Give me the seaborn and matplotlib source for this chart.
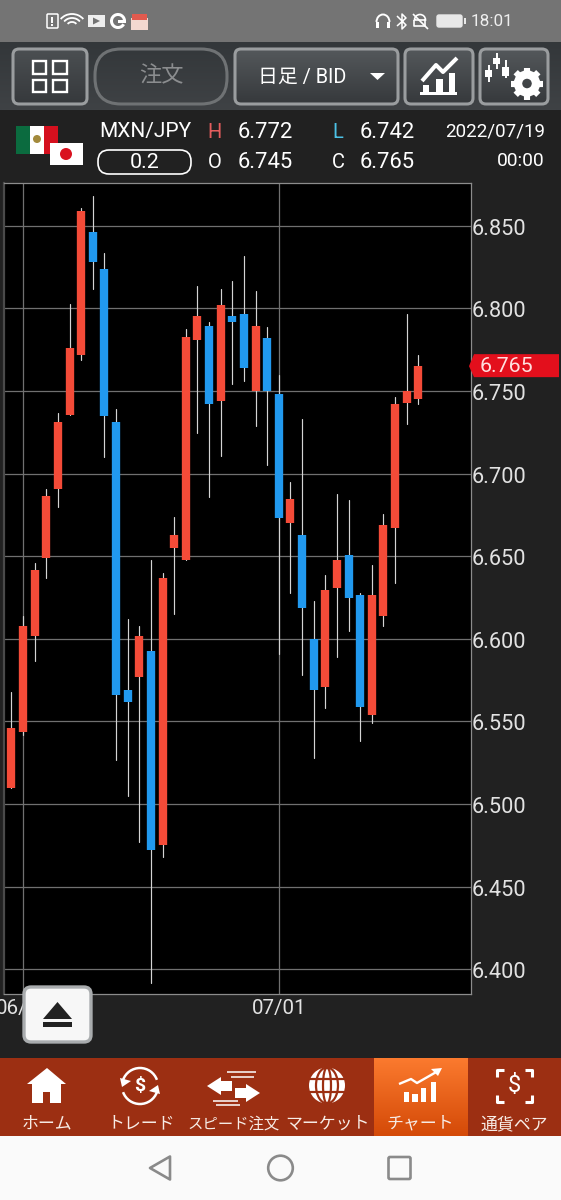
import numpy as np
import pandas as pd
import matplotlib
matplotlib.use("Agg")
import matplotlib.pyplot as plt
import matplotlib.transforms as mtrans
import seaborn as sns
from matplotlib.patches import Rectangle, FancyBboxPatch, Circle, Polygon, Wedge, Arc, Ellipse

# daily candles, MXN/JPY
highs = [6.5678, 6.6138, 6.6457, 6.6907, 6.7368, 6.8028, 6.8605, 6.8680, 6.8337, 6.7389, 6.6118, 6.6077,
         6.6477, 6.6396, 6.6735, 6.7877, 6.8137, 6.7917, 6.8117, 6.8165, 6.8317, 6.8107, 6.7885, 6.7596,
         6.6947, 6.7328, 6.6227, 6.6388, 6.6878, 6.6838, 6.6279, 6.6447, 6.6755, 6.7465, 6.7967, 6.772]
lows = [6.5099, 6.5420, 6.5867, 6.6368, 6.6799, 6.7356, 6.7687, 6.8117, 6.7100, 6.5268, 6.5049, 6.4768,
        6.3919, 6.4678, 6.6148, 6.6477, 6.7247, 6.6860, 6.7108, 6.7539, 6.7558, 6.7288, 6.7050, 6.5910,
        6.6279, 6.5779, 6.5280, 6.5579, 6.5888, 6.6047, 6.5380, 6.5489, 6.6079, 6.6340, 6.7298, 6.742]
opens = [6.5099, 6.5438, 6.6019, 6.6489, 6.6908, 6.7356, 6.7718, 6.8460, 6.8238, 6.7310, 6.5690, 6.5767,
         6.5926, 6.4750, 6.6549, 6.6477, 6.7810, 6.7895, 6.7439, 6.7955, 6.7967, 6.7500, 6.7819, 6.7480,
         6.6699, 6.6628, 6.5997, 6.5708, 6.6309, 6.6507, 6.6265, 6.5539, 6.6140, 6.6671, 6.7429, 6.745]
closes = [6.5460, 6.6077, 6.6416, 6.6866, 6.7310, 6.7760, 6.8589, 6.8279, 6.7348, 6.5658, 6.5619, 6.6017,
          6.4720, 6.6368, 6.6626, 6.7828, 6.7955, 6.7421, 6.8018, 6.7917, 6.7641, 6.7895, 6.7500, 6.6729,
          6.6848, 6.6188, 6.5690, 6.6295, 6.6477, 6.6249, 6.5589, 6.6265, 6.6687, 6.7419, 6.7500, 6.765]
price_ticks = [6.40, 6.45, 6.50, 6.55, 6.60, 6.65, 6.70, 6.75, 6.80, 6.85]
date_ticks = [1, 23]
date_labels = ["06/01", "07/01"]
last_price = 6.765

UP = "#f44b38"
DOWN = "#2199ef"
W, H = 561, 1200

sns.set_theme(style="dark")
plt.rcParams["font.family"] = ["Roboto", "Noto Sans CJK JP", "DejaVu Sans"]
plt.rcParams["axes.unicode_minus"] = False

n = len(opens)
idx = np.arange(n)
wicks = pd.DataFrame({"candle": np.tile(idx, 2), "price": highs + lows})
bodies = pd.DataFrame({"candle": np.tile(idx, 2), "price": opens + closes,
                       "dir": ["up" if c > o else "down" for o, c in zip(opens, closes)] * 2})

fig = plt.figure(figsize=(W / 100, H / 100), dpi=100, facecolor="#212121")

# price chart, placed by pixels of the screen
x0, x1, y0, y1 = 4, 471, 183, 994
ax = fig.add_axes([x0 / W, 1 - y1 / H, (x1 - x0) / W, (y1 - y0) / H], facecolor="black", zorder=1)
sns.lineplot(data=wicks, x="candle", y="price", units="candle", estimator=None, color="#d4d4d4",
             lw=0.85, ax=ax, legend=False, zorder=3)
sns.lineplot(data=bodies, x="candle", y="price", units="candle", estimator=None, hue="dir",
             palette={"up": UP, "down": DOWN}, lw=6.0, ax=ax, legend=False, zorder=4,
             solid_capstyle="butt")
ax.set_xlim((x0 - 11.4) / 11.625, (x1 - 11.4) / 11.625)
ax.set_ylim(6.85 - (y1 - 225.7) / 1652.4, 6.85 - (y0 - 225.7) / 1652.4)
ax.set_xlabel("")
ax.set_ylabel("")
ax.yaxis.tick_right()
ax.set_yticks(price_ticks, [f"{p:.3f}" for p in price_ticks], fontsize=15.7, color="#e2e2e2")
ax.set_xticks(date_ticks, date_labels, fontsize=14.8, color="#e2e2e2")
ax.tick_params(axis="y", length=0, pad=0.5)
ax.tick_params(axis="x", length=0, pad=3.5)
ax.grid(True, color="#707070", lw=0.9)
ax.set_axisbelow(True)
for name, sp in ax.spines.items():
    sp.set_color("#8c8c8c")
    sp.set_linewidth(0.9)
ax.spines["left"].set_color("#4a4a4a")
ax.spines["left"].set_linewidth(1.6)
# labels sit a pixel lower than the grid lines
shift = mtrans.ScaledTranslation(0, -1 / 100, fig.dpi_scale_trans)
for lab in ax.get_yticklabels():
    lab.set_transform(lab.get_transform() + shift)

# screen chrome on top, in pixel coordinates
ui = fig.add_axes([0, 0, 1, 1], zorder=2)
ui.patch.set_alpha(0)
ui.set_axis_off()


def rect(a, b, c, d, fc, **kw):
    ui.add_patch(Rectangle((a, b), c - a, d - b, fc=fc, ec="none", **kw))


def grad(a, b, c, d, top, bottom, z=1):
    cm = matplotlib.colors.LinearSegmentedColormap.from_list("g", [top, bottom])
    ui.imshow(np.linspace(0, 1, 64)[:, None], extent=(a, c, d, b), cmap=cm, aspect="auto", zorder=z)


def button(a, b, c, d, ec="#9a9d9f", r=6, lw=2.2, fc="none", z=3):
    ui.add_patch(FancyBboxPatch((a + r, b + r), c - a - 2 * r, d - b - 2 * r, boxstyle=f"round,pad={r}",
                                fc=fc, ec=ec, lw=lw, zorder=z))


def line(xs, ys, c="white", lw=1.5, z=4, **kw):
    ui.plot(xs, ys, color=c, lw=lw, zorder=z, solid_capstyle=kw.pop("cap", "butt"), **kw)


def poly(pts, c="white", z=4, **kw):
    ui.add_patch(Polygon(pts, closed=True, fc=c, ec="none", zorder=z, **kw))


def txt(x, y, s, size, c="white", ha="center", **kw):
    ui.text(x, y, s, fontsize=size, color=c, ha=ha, va="center", zorder=6, **kw)


# status bar and toolbar
rect(0, 0, W, 42, "#747474", zorder=1)
grad(0, 42, W, 110, "#33373a", "#3f4245")
grad(13, 49, 87, 104, "#4b4f52", "#36393c", 2)
grad(235, 49, 398, 104, "#54585b", "#36393c", 2)
grad(405, 49, 473, 104, "#54585b", "#36393c", 2)
grad(480, 49, 548, 104, "#54585b", "#36393c", 2)
button(13, 49, 87, 104)
button(95, 49, 227, 104, ec="#6f7274", r=26)
button(235, 49, 398, 104)
button(405, 49, 473, 104)
button(480, 49, 548, 104)

# status icons
ui.add_patch(FancyBboxPatch((48, 15), 9, 12, boxstyle="round,pad=1", fc="none", ec="white", lw=1.1, zorder=4))
line([52.5, 52.5], [17, 23], lw=1.4)
line([52.5, 52.5], [24, 26], lw=1.4)
for r in (5, 9, 13):
    ui.add_patch(Arc((72, 27), 2.2 * r, 2 * r, theta1=215, theta2=325, ec="white", lw=1.3, zorder=4))
rect(88, 15, 105, 27, "#eeeeee", zorder=4)
poly([(93, 17.5), (93, 24.5), (100, 21)], "#747474")
ui.add_patch(Wedge((118, 21), 8, 30, 360, width=3, fc="white", ec="none", zorder=4))
rect(118, 20, 126, 23, "white", zorder=4)
rect(131, 18, 148, 30, "#f3d8d0", zorder=4)
rect(132, 14, 147, 20, "#e25a4e", zorder=4)
ui.add_patch(Arc((383, 22), 13, 15, theta1=180, theta2=360, ec="white", lw=1.4, zorder=4))
rect(376, 22, 379, 28, "white", zorder=4)
rect(387, 22, 390, 28, "white", zorder=4)
line([397, 406, 402, 402, 406, 397], [16, 25, 29, 14, 18, 26], lw=1.1)
ui.add_patch(Wedge((420, 20), 5.5, 180, 360, fc="none", ec="white", lw=1.2, zorder=4))
line([414.5, 414.5, 425.5, 425.5], [20, 26, 26, 20], lw=1.2)
line([413, 428], [14, 29], lw=1.2)
button(437, 15, 462, 27, ec="#e8e8e8", r=2, lw=1, fc="#e8e8e8")
rect(464, 18, 466, 24, "#e8e8e8", zorder=4)
txt(513, 22, "18:01", 12.3, "#eeeeee", ha="right")

# grid button
for bx, by in [(33, 61), (53.5, 61), (33, 79.5), (53.5, 79.5)]:
    ui.add_patch(Rectangle((bx, by), 13.5, 12.5, fc="none", ec="white", lw=1.7, zorder=4))
txt(161, 77, "注文", 16, "#8b8d8f")
txt(258, 77.5, "日足 / BID", 14.3, "white", ha="left")
poly([(370, 73), (385, 73), (377.5, 80)])

# trend icon
line([422, 436, 443, 457], [81, 65, 72, 58], lw=2.9)
rect(420, 92, 457, 95, "white", zorder=4)
rect(423, 85, 429.5, 92, "white", zorder=4)
rect(436, 79, 443, 92, "white", zorder=4)
rect(449, 73, 455.5, 92, "white", zorder=4)

# candle + gear icon
for cx, top, bot, wt, wb in [(489, 70, 77, 65, 82), (497, 58, 64, 53, 69), (506, 67, 76, 60, 78)]:
    line([cx, cx], [wt, wb], lw=1.4)
    rect(cx - 3.5, top, cx + 3.5, bot, "white", zorder=4)
ui.add_patch(Circle((527, 83.5), 9, fc="none", ec="white", lw=6, zorder=4))
for a in np.arange(0, 360, 45):
    ca, sa = np.cos(np.radians(a)), np.sin(np.radians(a))
    line([527 + 11 * ca, 527 + 16 * ca], [83.5 + 11 * sa, 83.5 + 16 * sa], lw=4.4)

# symbol header
rect(16, 126, 30, 154, "#0b6b3f", zorder=3)
rect(30, 126, 44, 154, "white", zorder=3)
rect(44, 126, 58, 154, "#d5101e", zorder=3)
ui.add_patch(Circle((37, 139), 4, fc="#a38a3c", ec="none", zorder=4))
rect(50, 143, 83, 165, "white", zorder=5)
ui.add_patch(Circle((66, 154), 6, fc="#d9121f", ec="none", zorder=5))
txt(99, 132, "MXN/JPY", 15, ha="left")
button(98, 150, 191, 174, ec="white", r=11, lw=1.2)
txt(144.5, 163, "0.2", 15.4)
txt(215, 132, "H", 14.5, "#e35d5d")
txt(338, 132, "L", 14.5, "#4cc2e6")
txt(215, 162, "O", 14.5)
txt(338, 162, "C", 14.5)
txt(238, 132, "6.772", 15.8, ha="left")
txt(360, 132, "6.742", 15.8, ha="left")
txt(238, 162, "6.745", 15.8, ha="left")
txt(360, 162, "6.765", 15.8, ha="left")
txt(545, 132, "2022/07/19", 13.5, ha="right")
txt(545, 161.5, "00:00", 13.8, ha="right")

# last price tag
tag_y = 225.7 + (6.85 - last_price) * 1652.4
poly([(469, tag_y), (474, tag_y - 12), (559, tag_y - 12), (559, tag_y + 11), (474, tag_y + 11)], "#e30f1c")
txt(480, tag_y + 0.5, f"{last_price:.3f}", 15.4, "#ffdede", ha="left")

# eject button
button(24, 987, 91, 1042, ec="#a9acae", r=7, lw=2.4, fc="#f7f7f7", z=4)
poly([(43, 1019), (57.5, 1002), (72, 1019)], "#222222", z=5)
rect(43, 1022, 72, 1027, "#222222", zorder=5)

# bottom navigation
rect(0, 1058, W, 1136, "#9c2f12", zorder=1)
grad(374, 1058, 468, 1136, "#fb7a2e", "#d44a08", 2)
nav_labels = ["ホーム", "トレード", "スピード注文", "マーケット", "チャート", "通貨ペア"]
nav_x = [47, 141, 234, 327, 420, 514]
nav_size = [12.2, 12.2, 11.1, 12.2, 12.2, 12.2]
for lab, nx, sz in zip(nav_labels, nav_x, nav_size):
    txt(nx, 1124, lab, sz, "#f7ece6")

# home
poly([(27, 1084), (47, 1068), (66, 1084)])
poly([(32, 1084), (61, 1084), (61, 1103), (50, 1103), (50, 1092), (43, 1092), (43, 1103), (32, 1103)])
# trade
ui.add_patch(Arc((140, 1086), 36, 36, theta1=200, theta2=340, ec="white", lw=1.8, zorder=4))
ui.add_patch(Arc((140, 1086), 36, 36, theta1=20, theta2=160, ec="white", lw=1.8, zorder=4))
poly([(120, 1078), (131, 1081), (122, 1087)])
poly([(160, 1094), (149, 1091), (158, 1085)])
txt(140, 1086, "$", 14, fontweight="bold")
# speed order
poly([(207, 1086), (221, 1077), (221, 1081), (232, 1081), (232, 1091), (221, 1091), (221, 1095)])
poly([(260, 1093), (246, 1084), (246, 1088), (235, 1088), (235, 1098), (246, 1098), (246, 1102)])
for xs, yy in [((227, 256), 1072), ((231, 254), 1077), ((213, 238), 1100.5), ((216, 240), 1105)]:
    line(xs, [yy, yy], lw=1.1)
# market globe
ui.add_patch(Circle((327, 1085.5), 18, fc="white", ec="none", zorder=4))
for yy in (1079, 1092):
    line([309, 345], [yy, yy], c="#9c2f12", lw=1.6, z=5)
for wd in (22, 8):
    ui.add_patch(Ellipse((327, 1085.5), wd, 36, fc="none", ec="#9c2f12", lw=1.6, zorder=5))
# chart
for a, b in [(404, 1092), (412.5, 1094), (421, 1088), (431, 1082)]:
    rect(a, b, a + 5.5, 1102, "white", zorder=4)
line([399, 411, 417, 438], [1084, 1079, 1083, 1071], lw=1.7)
poly([(431, 1069), (442, 1068), (438, 1076)])
# currency pair
for sx, sy in [(-1, -1), (1, -1), (-1, 1), (1, 1)]:
    cx, cy = 514.5 + sx * 17.5, 1085.5 + sy * 16
    line([cx - sx * 7, cx, cx], [cy, cy, cy - sy * 7], lw=2.2)
txt(514, 1086, "$", 17)

# android keys
rect(0, 1136, W, H, "#fafafa", zorder=1)
ui.add_patch(Polygon([(150, 1168), (170, 1156.5), (170, 1179.5)], closed=True, fc="none", ec="#8a8a8a",
                     lw=1.9, joinstyle="round", zorder=4))
ui.add_patch(Circle((280.5, 1168), 12.3, fc="none", ec="#8a8a8a", lw=1.9, zorder=4))
button(388.5, 1157, 410.5, 1179, ec="#8a8a8a", r=1.5, lw=1.9)

ui.set_xlim(0, W)
ui.set_ylim(H, 0)

fig.savefig("out.png", dpi=100, facecolor=fig.get_facecolor())
